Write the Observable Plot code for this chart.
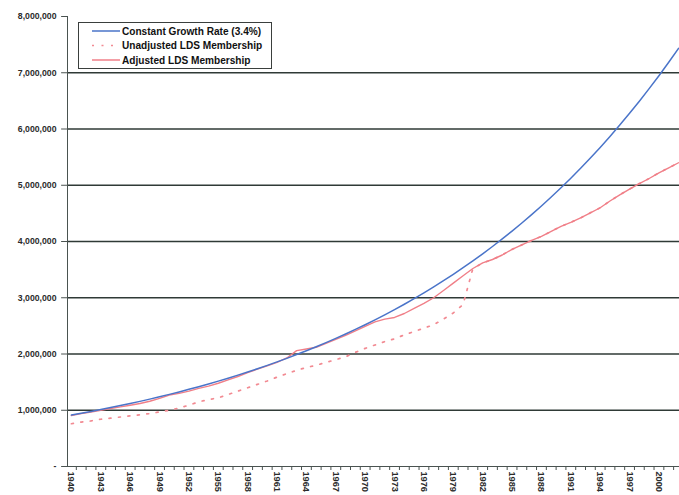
<!DOCTYPE html>
<html>
<head>
<meta charset="utf-8">
<script src="https://cdn.jsdelivr.net/npm/d3@7"></script>
<script src="https://cdn.jsdelivr.net/npm/@observablehq/plot@0.6"></script>
<style>
  html, body { margin: 0; padding: 0; background: #fff; }
  #chart { width: 679px; height: 495px; overflow: hidden; }
  svg text { font-family: "Liberation Sans", Arial, sans-serif; }
</style>
</head>
<body>
<div id="chart"></div>
<script>
const years = d3.range(1940, 2003);
const yTicks = [0, 1000000, 2000000, 3000000, 4000000, 5000000, 6000000, 7000000, 8000000];
const gridValues = [1000000, 2000000, 3000000, 4000000, 5000000, 6000000, 7000000];
const xLabelYears = [1940,1943,1946,1949,1952,1955,1958,1961,1964,1967,1970,1973,1976,1979,1982,1985,1988,1991,1994,1997,2000];
const seriesNames = ["Constant Growth Rate (3.4%)", "Unadjusted LDS Membership", "Adjusted LDS Membership"];

// millions
const constantGrowth = [0.914,0.946,0.978,1.012,1.047,1.083,1.120,1.158,1.198,1.240,
  1.282,1.326,1.372,1.419,1.468,1.518,1.570,1.624,1.680,1.738,
  1.798,1.860,1.923,1.990,2.058,2.129,2.202,2.278,2.356,2.437,
  2.520,2.607,2.697,2.790,2.885,2.985,3.087,3.193,3.303,3.417,
  3.534,3.656,3.781,3.911,4.046,4.185,4.329,4.478,4.632,4.791,
  4.955,5.126,5.302,5.484,5.673,5.868,6.070,6.279,6.494,6.718,
  6.948,7.187,7.434];
const adjusted = [0.906,0.94,0.97,1.00,1.03,1.06,1.09,1.12,1.16,1.21,
  1.27,1.30,1.34,1.39,1.43,1.48,1.54,1.60,1.67,1.73,
  1.79,1.85,1.93,2.06,2.09,2.12,2.19,2.26,2.33,2.41,
  2.49,2.57,2.62,2.65,2.72,2.81,2.90,3.00,3.13,3.26,
  3.39,3.52,3.62,3.68,3.76,3.86,3.94,4.02,4.09,4.18,
  4.27,4.34,4.42,4.51,4.60,4.72,4.83,4.93,5.03,5.12,
  5.22,5.31,5.40];
const unadjusted = [0.76,0.79,0.81,0.84,0.86,0.88,0.90,0.92,0.94,0.97,
  1.00,1.04,1.09,1.15,1.19,1.22,1.28,1.34,1.40,1.46,
  1.52,1.59,1.65,1.71,1.76,1.80,1.85,1.90,1.95,2.03,
  2.10,2.16,2.22,2.27,2.34,2.40,2.46,2.52,2.62,2.73,
  2.88,3.52,3.62,3.68,3.76,3.86,3.94,4.02,4.09,4.18,
  4.27,4.34,4.42,4.51,4.60,4.72,4.83,4.93,5.03,5.12,
  5.22,5.31,5.40];

const colors = ["#4a74c9", "#f28a92", "#f07f88"];

const rows = (vals) => years.map((y, i) => ({year: y, value: vals[i] * 1e6}));

const fmt = d => d === 0 ? "-" : d3.format(",")(d);
const X0 = 1939.6;

const plot = Plot.plot({
  width: 679,
  height: 495,
  marginLeft: 67,
  marginRight: 0,
  marginTop: 16,
  marginBottom: 29,
  style: {background: "#fff", overflow: "visible"},
  x: {type: "linear", domain: [X0, 2002.1], axis: null},
  y: {type: "linear", domain: [0, 8000000], axis: null},
  marks: [
    Plot.ruleY(gridValues, {stroke: "#2f3a36", strokeWidth: 1.4}),
    // y axis
    Plot.ruleX([X0], {y1: 0, y2: 8000000, stroke: "#4a5350", strokeWidth: 1}),
    Plot.ruleY(yTicks, {x1: X0 - 0.6, x2: X0, stroke: "#4a5350", strokeWidth: 1}),
    Plot.text(yTicks, {x: X0, y: d => d, text: fmt, dx: -11, textAnchor: "end", fontSize: 8.7, fontWeight: "bold", fill: "#2b2b2b"}),
    // x axis
    Plot.ruleY([0], {stroke: "#4a5350", strokeWidth: 1}),
    Plot.ruleX(years.map(y => y + 0.5), {y1: 0, y2: 0, insetBottom: -4, stroke: "#4a5350", strokeWidth: 1}),
    Plot.text(xLabelYears, {x: d => d, y: 0, text: d => String(d), rotate: 90, textAnchor: "start", dy: 5, fontSize: 9.2, fontWeight: "bold", fill: "#2b2b2b"}),
    // series
    Plot.line(rows(unadjusted), {x: "year", y: "value", stroke: colors[1], strokeWidth: 1.7, strokeDasharray: "2,7.5", clip: true}),
    Plot.line(rows(adjusted), {x: "year", y: "value", stroke: colors[2], strokeWidth: 1.4, clip: true}),
    Plot.line(rows(constantGrowth), {x: "year", y: "value", stroke: colors[0], strokeWidth: 1.5, clip: true})
  ]
});

document.getElementById("chart").appendChild(plot);

const svg = d3.select(plot);

// legend box inside the plot
const lg = svg.append("g").attr("class", "legend").attr("text-anchor", "start");
lg.append("rect").attr("x", 78.5).attr("y", 22.5).attr("width", 193).attr("height", 46)
  .attr("fill", "#fff").attr("stroke", "#3a3f3d").attr("stroke-width", 1);
const dashes = [null, "2,7.5", null];
seriesNames.forEach((name, i) => {
  const yy = 31 + i * 14.5;
  lg.append("line").attr("x1", 92).attr("x2", 120).attr("y1", yy).attr("y2", yy)
    .attr("stroke", colors[i]).attr("stroke-width", 1.5)
    .attr("stroke-dasharray", dashes[i]);
  lg.append("text").attr("x", 122).attr("y", yy).attr("dy", "0.35em")
    .attr("text-anchor", "start")
    .attr("font-size", 10.1).attr("font-weight", "bold").attr("fill", "#111")
    .text(name);
});
</script>
</body>
</html>
